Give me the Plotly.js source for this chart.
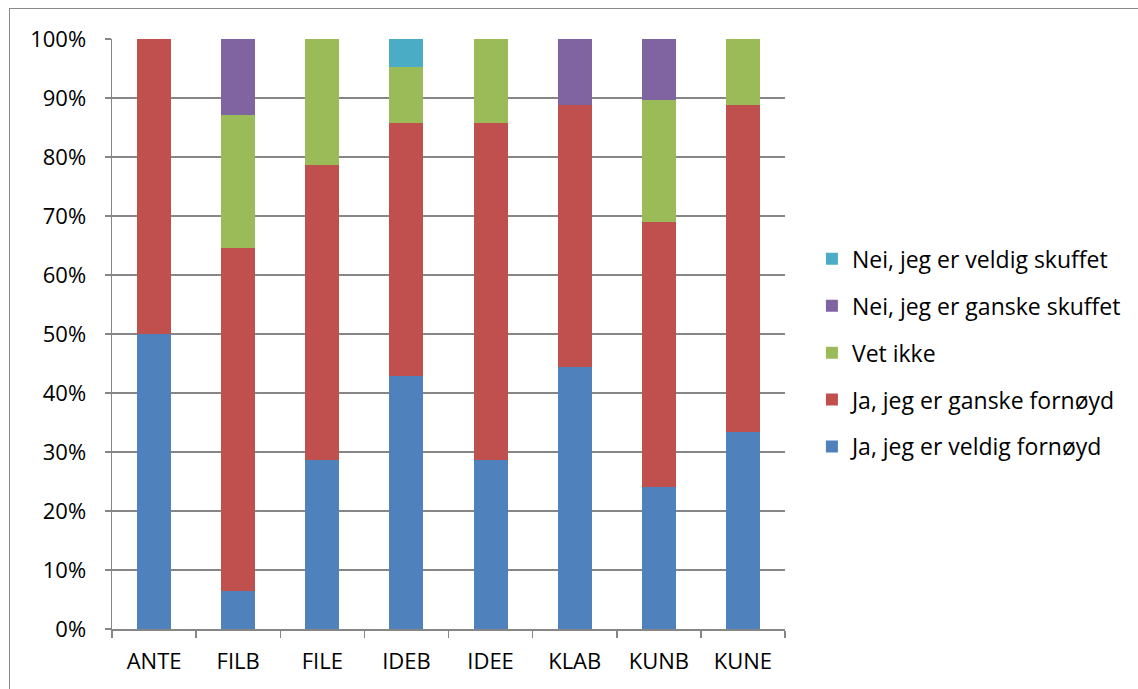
<!DOCTYPE html>
<html><head><meta charset="utf-8">
<script src="https://cdn.plot.ly/plotly-3.0.1.min.js"></script>
<style>body{margin:0;padding:0;background:#fff}#wrap{position:relative;width:1138px;height:689px}#border{position:absolute;left:9px;top:8px;width:1140px;height:700px;border:1px solid #8a8a8a;pointer-events:none}</style>
</head><body><div id="wrap"><div id="chart" style="width:1138px;height:689px"></div><div id="border"></div></div>
<script>
const categories = ["ANTE","FILB","FILE","IDEB","IDEE","KLAB","KUNB","KUNE"];
const veldigFornoyd = [50.0, 6.45, 28.57, 42.86, 28.57, 44.44, 24.14, 33.33];
const ganskeFornoyd = [50.0, 58.06, 50.0, 42.86, 57.14, 44.44, 44.83, 55.56];
const vetIkke = [0, 22.58, 21.43, 9.52, 14.29, 0, 20.69, 11.11];
const ganskeSkuffet = [0, 12.90, 0, 0, 0, 11.11, 10.34, 0];
const veldigSkuffet = [0, 0, 0, 4.76, 0, 0, 0, 0];
const seriesNames = ["Ja, jeg er veldig fornøyd","Ja, jeg er ganske fornøyd","Vet ikke","Nei, jeg er ganske skuffet","Nei, jeg er veldig skuffet"];
const seriesColors = ["#4F81BD","#C0504D","#9BBB59","#8064A2","#4BACC6"];
const seriesValues = [veldigFornoyd, ganskeFornoyd, vetIkke, ganskeSkuffet, veldigSkuffet];

const traces = seriesValues.map((vals,i)=>({
  type:'bar', x:categories, y:vals, name:seriesNames[i], legendgroup:'g'+i,
  legendrank: 100 - i,
  marker:{color:seriesColors[i], line:{width:0}}, hoverinfo:'skip'
}));

const layout = {
  width:1138, height:689, barmode:'stack', bargap:0.595,
  margin:{l:112, r:353, t:39, b:60},
  paper_bgcolor:'#fff', plot_bgcolor:'#fff',
  font:{family:'Open Sans, Liberation Sans, sans-serif', size:22, color:'#000'},
  xaxis:{showline:true, linecolor:'#868686', linewidth:1.5, ticks:'outside', tickson:'boundaries', ticklen:7, tickcolor:'#868686', tickwidth:1.5, ticklabelstandoff:12, tickfont:{size:22}, showgrid:false},
  yaxis:{range:[0,100], dtick:10, ticksuffix:'%', showline:true, linecolor:'#868686', linewidth:1.5, ticks:'outside', ticklen:6, tickcolor:'#868686', tickwidth:1.5, gridcolor:'#868686', gridwidth:1.5, zeroline:false, ticklabelstandoff:14, tickfont:{size:22}},
  legend:{x:1.04, xanchor:'left', y:0.468, yanchor:'middle', traceorder:'grouped', tracegroupgap:14, font:{size:23}, bgcolor:'rgba(0,0,0,0)'},
  showlegend:true
};
Plotly.newPlot('chart', traces, layout, {displayModeBar:false, staticPlot:true});
</script></body></html>
